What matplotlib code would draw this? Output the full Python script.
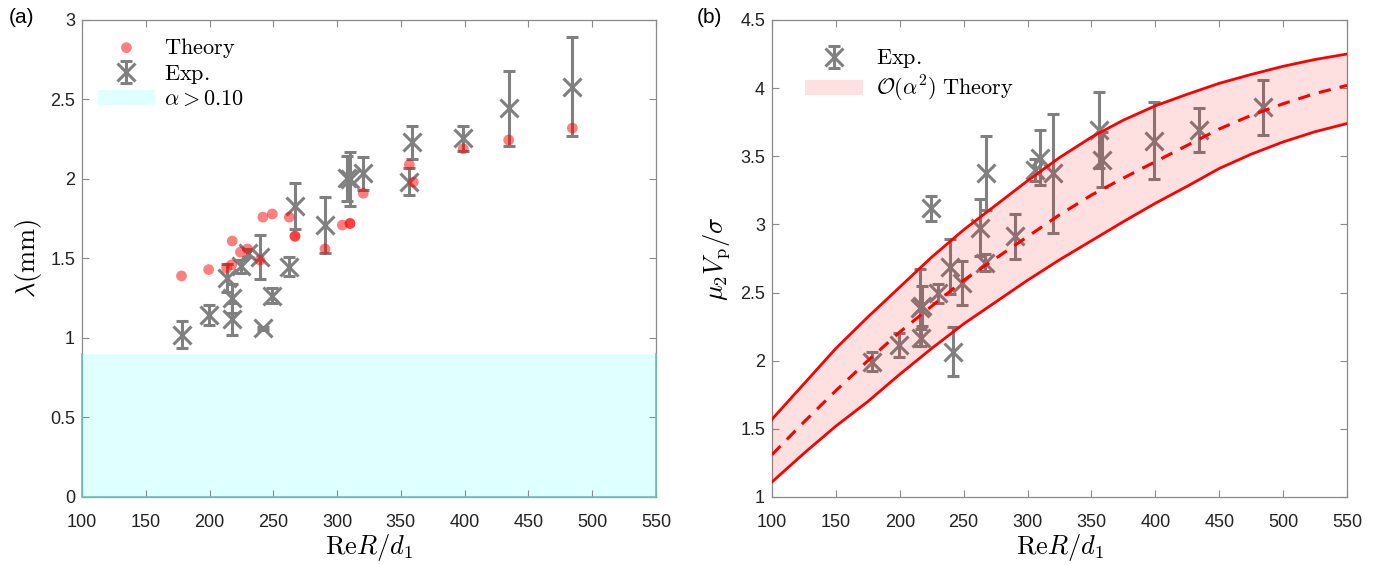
import matplotlib
matplotlib.use('Agg')
import matplotlib.pyplot as plt
from matplotlib.patches import Patch

plt.rcParams['font.family'] = ['Liberation Sans', 'DejaVu Sans']
plt.rcParams['mathtext.fontset'] = 'cm'

# ---- panel (a): wavelength ----
theory_a_x = [178, 199.3, 213.4, 217.3, 217.8, 224.2, 229.8, 239.5, 241.8, 249.2, 262.5,
              267, 267, 290.5, 304.1, 310.1, 310.1, 320.5, 356.6, 359.7, 398.9, 434.5, 484.4]
theory_a_y = [1.39, 1.43, 1.44, 1.46, 1.61, 1.54, 1.56, 1.49, 1.76, 1.78, 1.76,
              1.64, 1.64, 1.56, 1.71, 1.72, 1.72, 1.91, 2.09, 1.98, 2.19, 2.245, 2.32]

exp_a_x = [178.1, 199.3, 213.4, 217.3, 217.3, 224.6, 230.4, 239.5, 241.6, 249.2, 262.5,
           267, 290.5, 307.5, 310.1, 320.5, 356.6, 358.4, 398.9, 434.5, 484.4]
exp_a_y = [1.02, 1.145, 1.375, 1.25, 1.12, 1.45, 1.535, 1.51, 1.06, 1.267, 1.449,
           1.83, 1.711, 2.004, 1.998, 2.036, 1.983, 2.231, 2.256, 2.444, 2.58]
exp_a_err = [0.084, 0.063, 0.088, 0.09, 0.1, 0.04, 0.025, 0.14, 0.012, 0.045, 0.06,
             0.147, 0.178, 0.14, 0.17, 0.105, 0.084, 0.105, 0.08, 0.237, 0.31]

alpha_limit = 0.9

# ---- panel (b): velocity ----
exp_b_x = [178.1, 199.5, 215.9, 217.5, 216.7, 224.5, 229.7, 239.4, 241.5, 248.5, 262.9,
           266.8, 267.6, 290.3, 305.5, 309.6, 320.3, 356.3, 358.2, 399.0, 434.4, 483.9]
exp_b_y = [1.993, 2.115, 2.39, 2.40, 2.17, 3.118, 2.495, 2.69, 2.066, 2.57, 2.975,
           2.72, 3.378, 2.912, 3.40, 3.49, 3.375, 3.693, 3.475, 3.615, 3.693, 3.859]
exp_b_err = [0.07, 0.09, 0.28, 0.147, 0.065, 0.09, 0.07, 0.2, 0.18, 0.165, 0.21,
             0.065, 0.27, 0.165, 0.08, 0.2, 0.437, 0.28, 0.2, 0.28, 0.16, 0.2]

curve_x = [100, 125, 150, 175, 200, 225, 250, 275, 300, 325,
           350, 375, 400, 425, 450, 475, 500, 525, 550]
curve_upper = [1.57, 1.83, 2.09, 2.32, 2.54, 2.76, 2.96, 3.14, 3.32, 3.49,
               3.64, 3.765, 3.87, 3.955, 4.035, 4.10, 4.16, 4.21, 4.25]
curve_mid = [1.31, 1.55, 1.78, 2.00, 2.21, 2.40, 2.59, 2.75, 2.91, 3.07,
             3.215, 3.34, 3.46, 3.58, 3.70, 3.80, 3.885, 3.96, 4.02]
curve_lower = [1.11, 1.32, 1.52, 1.70, 1.90, 2.09, 2.27, 2.43, 2.59, 2.74,
               2.88, 3.02, 3.155, 3.28, 3.41, 3.515, 3.605, 3.68, 3.74]

x_ticks = [100, 150, 200, 250, 300, 350, 400, 450, 500, 550]
ya_ticks = [0, 0.5, 1, 1.5, 2, 2.5, 3]
ya_labels = ['0', '0.5', '1', '1.5', '2', '2.5', '3']
yb_ticks = [1, 1.5, 2, 2.5, 3, 3.5, 4, 4.5]
yb_labels = ['1', '1.5', '2', '2.5', '3', '3.5', '4', '4.5']

GRAY = '#808080'
SPINE = '#8a8a8a'
CYAN = '#e0ffff'


def style_axes(ax):
    for s in ax.spines.values():
        s.set_color(SPINE)
        s.set_linewidth(0.9)
    ax.tick_params(direction='in', top=True, right=True, length=5, width=0.8,
                   color=SPINE, labelsize=13, labelcolor='#222222')
    ax.tick_params(axis='x', pad=12)
    ax.tick_params(axis='y', pad=5)
    ax.set_xticks(x_ticks)
    ax.set_xlim(x_ticks[0], x_ticks[-1])
    ax.set_xlabel(r'$\mathrm{Re}R/d_1$', fontsize=19, labelpad=1)


def exp_errorbar(ax, x, y, err, z=2):
    return ax.errorbar(x, y, yerr=err, fmt='x', color=GRAY, ms=13, mew=2.2,
                       elinewidth=2.2, capsize=4, capthick=2.2, zorder=z)


fig = plt.figure(figsize=(13.8, 5.65), dpi=100)
ax1 = fig.add_axes([0.0594, 0.1204, 0.416, 0.8443])
ax2 = fig.add_axes([0.5594, 0.1204, 0.4167, 0.8443])

# (a)
ax1.axhspan(0, alpha_limit, facecolor=CYAN, edgecolor='none', zorder=0)
ax1.plot([x_ticks[0], x_ticks[0], x_ticks[-1], x_ticks[-1]],
         [alpha_limit, 0, 0, alpha_limit], color='#6cc0c0', lw=1.2,
         clip_on=False, zorder=5)
th = ax1.scatter(theory_a_x, theory_a_y, s=60, color='red', alpha=0.5,
                 edgecolors='none', zorder=3)
ex = exp_errorbar(ax1, exp_a_x, exp_a_y, exp_a_err)
style_axes(ax1)
ax1.set_ylim(0, 3)
ax1.set_yticks(ya_ticks)
ax1.set_yticklabels(ya_labels)
ax1.set_ylabel(r'$\lambda(\mathrm{mm})$', fontsize=19, labelpad=4)
ax1.legend([th, ex, Patch(facecolor=CYAN, edgecolor='none')],
           [r'$\mathrm{Theory}$', r'$\mathrm{Exp.}$', r'$\alpha > 0.10$'],
           loc='upper left', frameon=False, fontsize=16, handlelength=2.6,
           handletextpad=0.4, labelspacing=0.15, borderaxespad=0.3,
           bbox_to_anchor=(0.0, 1.0))

# (b)
exb = exp_errorbar(ax2, exp_b_x, exp_b_y, exp_b_err)
ax2.fill_between(curve_x, curve_lower, curve_upper, color='red', alpha=0.12,
                 linewidth=0, zorder=3)
ax2.plot(curve_x, curve_upper, color='red', lw=2, zorder=4)
ax2.plot(curve_x, curve_lower, color='red', lw=2, zorder=4)
ax2.plot(curve_x, curve_mid, color='red', lw=2.2, ls=(0, (4, 3)), zorder=4)
style_axes(ax2)
ax2.set_ylim(1, 4.5)
ax2.set_yticks(yb_ticks)
ax2.set_yticklabels(yb_labels)
ax2.set_ylabel(r'$\mu_2 V_\mathrm{p}/\sigma$', fontsize=19, labelpad=6)
ax2.legend([exb, Patch(facecolor='#ffe0e0', edgecolor='none')],
           [r'$\mathrm{Exp.}$', r'$\mathcal{O}(\alpha^2)\ \mathrm{Theory}$'],
           loc='upper left', frameon=False, fontsize=16, handlelength=2.6,
           handletextpad=0.6, labelspacing=0.15, borderaxespad=0.3,
           bbox_to_anchor=(0.03, 0.975))

fig.text(0.006, 0.985, '(a)', fontsize=15, va='top', ha='left')
fig.text(0.505, 0.985, '(b)', fontsize=15, va='top', ha='left')

fig.savefig('out.png', dpi=100)
